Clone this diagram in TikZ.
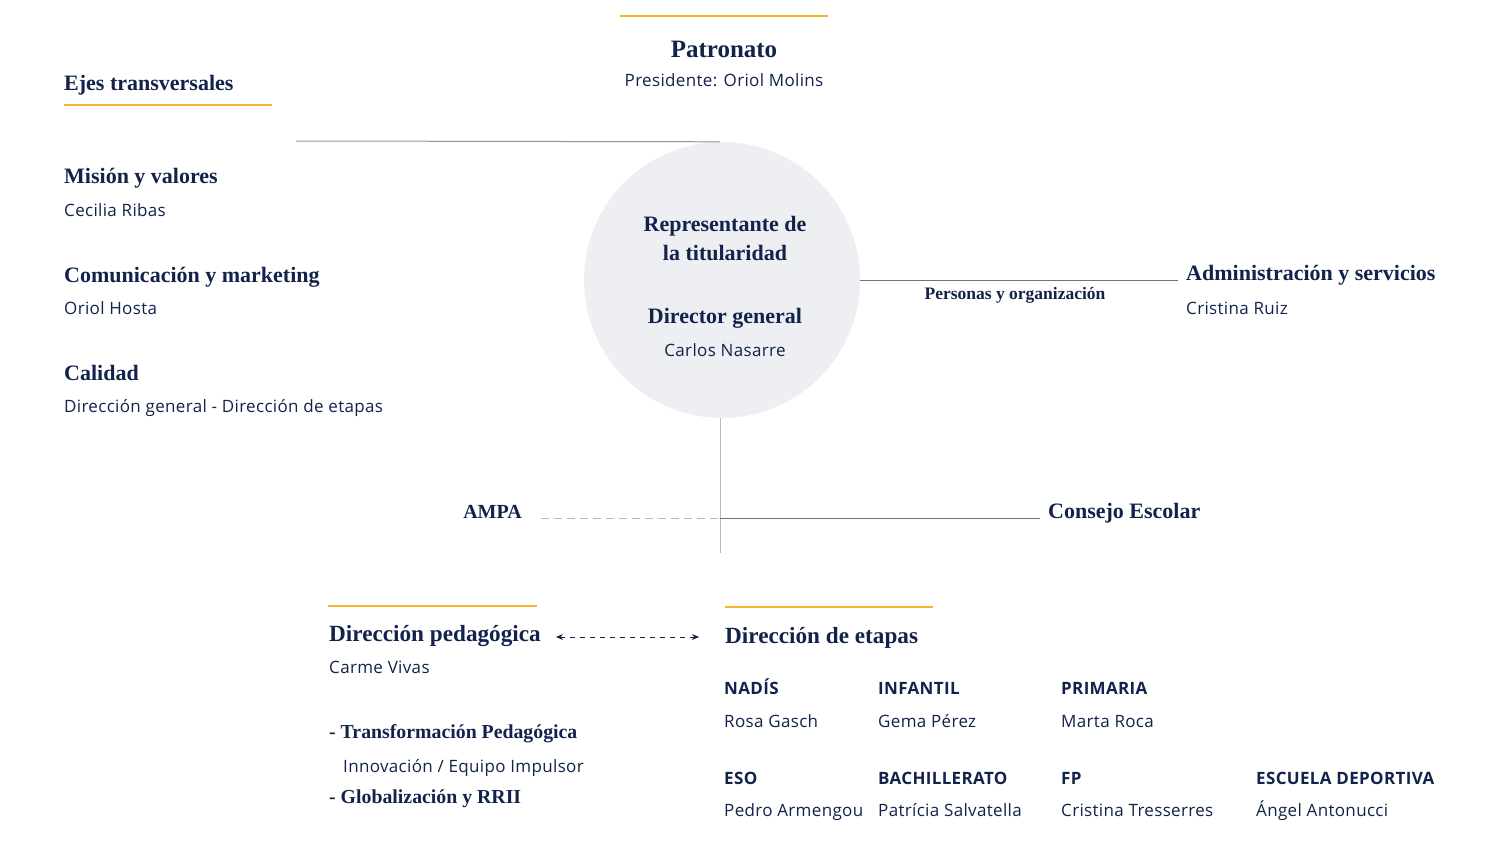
\documentclass[tikz,border=0pt]{standalone}
\usepackage{fontspec}
\setmainfont{Liberation Serif}
\setsansfont{Open Sans}[LetterSpace=2]
\usetikzlibrary{arrows.meta}
\definecolor{marine}{HTML}{12224A}
\definecolor{orangefilet}{HTML}{F6B330}
\definecolor{fondcercle}{HTML}{EEEFF3}
\tikzset{
  titre/.style={font=\bfseries\fontsize{22}{26}\selectfont, text=marine, inner sep=0pt, anchor=base west},
  grandtitre/.style={titre, font=\bfseries\fontsize{23.2}{27}\selectfont},
  soustitre/.style={titre, font=\bfseries\fontsize{19.8}{24}\selectfont},
  nom/.style={font=\sffamily\fontsize{17}{20}\selectfont, text=marine, inner sep=0pt, anchor=base west},
  etape/.style={font=\sffamily\bfseries\fontsize{17}{20}\selectfont, text=marine, inner sep=0pt, anchor=base west},
  filet/.style={draw=orangefilet, line width=1.6pt},
  trait/.style={draw=black!55, line width=1pt},
  traitclair/.style={draw=black!28, line width=1pt},
}
\begin{document}
\begin{tikzpicture}  % ------ Organigrama -------------------
      [x=1pt,y=-1pt]
    \useasboundingbox (0,0) rectangle (1500,843);

    \node[circle, fill=fondcercle, minimum size=276pt, inner sep=0pt] (dg) at (722,280) {};
    \coordinate (ejesfin) at (296,141);
    \coordinate (pied) at (720,553);
    \coordinate (croix) at (720,518);

    \node[titre, anchor=base, font=\bfseries\fontsize{25}{28}\selectfont] (patronato) at (724,58) {Patronato};
    \node[nom, anchor=base] (presidente) at (724,87) {Presidente: Oriol Molins};
    \draw[filet] (620,16) -- (828,16);

    \node[titre] (ejes) at (64,91) {Ejes transversales};
    \draw[filet] (64,105) -- (272,105);
    \node[titre] (mision) at (64,183) {Misión y valores};
    \node[nom] (cecilia) at (64,216) {Cecilia Ribas};
    \node[titre] (comunic) at (64,282) {Comunicación y marketing};
    \node[nom] (oriol) at (64,314) {Oriol Hosta};
    \node[titre] (calidad) at (64,380) {Calidad};
    \node[nom] (calidadnom) at (64,412) {Dirección general - Dirección de etapas};

    \node[titre, anchor=base] (repr) at (725,231) {Representante de};
    \node[titre, anchor=base] (titul) at (725,260) {la titularidad};
    \node[titre, anchor=base] (director) at (725,323) {Director general};
    \node[nom, anchor=base] (carlos) at (725,356) {Carlos Nasarre};

    \draw[trait, draw=black!42] (ejesfin) -- (dg.north -| croix) ;

    \node[titre] (admin) at (1186,280) {Administración y servicios};
    \node[nom] (cristina) at (1186,314) {Cristina Ruiz};
    \node[titre, anchor=base, font=\bfseries\fontsize{17.5}{20}\selectfont] (personas) at (1015,299) {Personas y organización};
    \draw[trait] (dg.east) -- ([xshift=-8pt]admin.west |- dg.east) ;

    \node[titre, anchor=base east, font=\bfseries\fontsize{20}{24}\selectfont] (ampa) at (522,518) {AMPA};
    \node[titre] (consejo) at (1048,518) {Consejo Escolar};
    \draw[traitclair] (dg.south -| pied) -- (pied) ;
    \draw[trait] (croix) -- ([xshift=-8pt]consejo.west |- croix) ;
    \draw[traitclair, dash pattern=on 8pt off 5pt] ([xshift=19pt]ampa.east |- croix) -- (croix) ; % AMPA

    \draw[filet] (328,606) -- (537,606);
    \node[grandtitre] (pedago) at (329,641) {Dirección pedagógica};
    \node[nom] (carme) at (329,673) {Carme Vivas};
    \node[soustitre] (transfo) at (329,738) {- Transformación Pedagógica};
    \node[nom] (innov) at (343,772) {Innovación / Equipo Impulsor};
    \node[soustitre] (global) at (329,803) {- Globalización y RRII};

    \draw[filet] (725,607) -- (933,607);
    \node[grandtitre] (etapas) at (725,643) {Dirección de etapas};
    \draw[marine, line width=1pt, dash pattern=on 5pt off 5pt,
          {Stealth[length=7pt,width=6pt]}-{Stealth[length=7pt,width=6pt]},
          shorten <=15pt, shorten >=26pt]
          ([yshift=4pt]pedago.base east) -- ([yshift=4pt]pedago.base east -| etapas.west) ;

    \node[etape] (nadis) at (724,694) {NADÍS};
    \node[nom] (rosa) at (724,727) {Rosa Gasch};
    \node[etape] (infantil) at (878,694) {INFANTIL};
    \node[nom] (gema) at (878,727) {Gema Pérez};
    \node[etape] (primaria) at (1061,694) {PRIMARIA};
    \node[nom] (marta) at (1061,727) {Marta Roca};

    \node[etape] (eso) at (724,784) {ESO};
    \node[nom] (pedro) at (724,816) {Pedro Armengou};
    \node[etape] (bach) at (878,784) {BACHILLERATO};
    \node[nom] (patricia) at (878,816) {Patrícia Salvatella};
    \node[etape] (fp) at (1061,784) {FP};
    \node[nom] (cristinat) at (1061,816) {Cristina Tresserres};
    \node[etape] (deport) at (1256,784) {ESCUELA DEPORTIVA};
    \node[nom] (angel) at (1256,816) {Ángel Antonucci};
\end{tikzpicture}
\end{document}
